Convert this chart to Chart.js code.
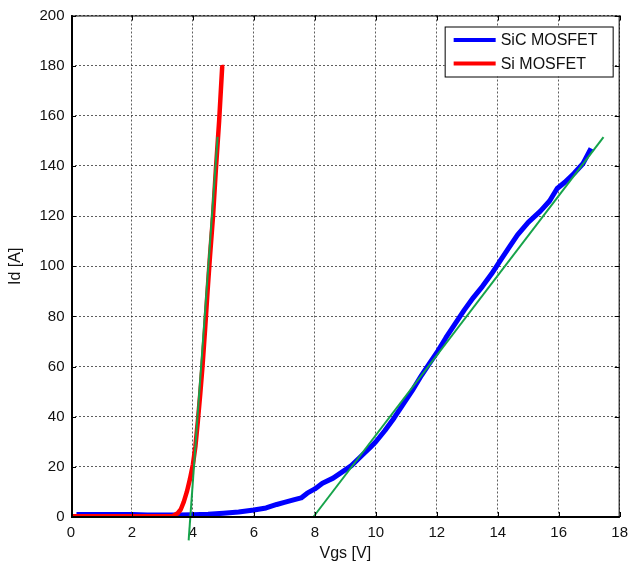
<!DOCTYPE html>
<html lang="en">
<head>
  <meta charset="UTF-8" />
  <title>Id vs Vgs - SiC / Si MOSFET</title>
  <script src="https://cdn.jsdelivr.net/npm/chart.js"></script>
  <style>
    html, body { margin: 0; padding: 0; background: #fff; }
    #wrap { width: 635px; height: 563px; }
  </style>
</head>
<body>
<div id="wrap"><canvas id="ivChart" width="635" height="563"></canvas></div>

<script>
  // axis ticks
  const xTicks = [0, 2, 4, 6, 8, 10, 12, 14, 16, 18];
  const yTicks = [0, 20, 40, 60, 80, 100, 120, 140, 160, 180, 200];

  // SiC MOSFET (blue)
  const sicVgs = [0.18, 0.5, 1, 1.5, 2, 2.5, 3, 3.5, 4, 4.5,
                  5, 5.5, 6, 6.4, 6.75, 7, 7.3, 7.55, 7.75, 8,
                  8.25, 8.6, 8.9, 9.2, 9.5, 9.8, 10, 10.3, 10.6, 10.9,
                  11.2, 11.5, 11.8, 12, 12.3, 12.6, 12.9, 13.2, 13.5, 13.8,
                  14.1, 14.4, 14.65, 15, 15.4, 15.7, 15.95, 16.2, 16.5, 16.8,
                  17.06];
  const sicId  = [1, 1, 1, 1, 1, 0.8, 0.8, 0.8, 0.9, 1.1,
                  1.5, 2, 2.8, 3.6, 5, 5.8, 6.8, 7.6, 9.5, 11.2,
                  13.5, 15.5, 18, 20.5, 24, 27.5, 30, 34.5, 39.5, 45,
                  50.5, 56.5, 62, 65.5, 71.5, 77, 82.5, 87.5, 92, 97,
                  102.5, 108, 112.5, 117.5, 122, 126, 131, 133.5, 137, 141,
                  147];

  // Si MOSFET (red)
  const siVgs = [0, 1, 2, 3, 3.35, 3.5, 3.6, 3.7, 3.8, 3.9, 4.0, 4.08,
                 4.16, 4.24, 4.32, 4.4, 4.48, 4.56, 4.66, 4.75, 4.86, 4.96, 5.03];
  const siId  = [0.3, 0.3, 0.3, 0.3, 0.4, 1.5, 3, 6, 10, 15, 21, 28,
                 38, 49, 61, 75, 90, 104, 120, 138, 158, 179.5, 179.5];

  // green fit lines
  const siFitVgs  = [3.86, 4.81];
  const siFitId   = [-9.3, 151.6];
  const sicFitVgs = [7.95, 17.47];
  const sicFitId  = [0, 151.5];

  const FONT = "'Liberation Sans', Arial, sans-serif";
  const pts = (xs, ys) => xs.map((v, i) => ({ x: v, y: ys[i] }));

  // box + inward tick marks, matlab style
  const frame = {
    id: 'frame',
    afterDatasetsDraw(chart) {
      const { ctx, chartArea: a, scales: { x, y } } = chart;
      ctx.save();
      ctx.strokeStyle = '#000';
      ctx.lineWidth = 1;
      ctx.beginPath();
      xTicks.forEach(v => {
        const px = Math.round(x.getPixelForValue(v)) + 0.5;
        ctx.moveTo(px, a.bottom); ctx.lineTo(px, a.bottom - 5);
        ctx.moveTo(px, a.top); ctx.lineTo(px, a.top + 5);
      });
      yTicks.forEach(v => {
        const py = Math.round(y.getPixelForValue(v)) + 0.5;
        ctx.moveTo(a.left, py); ctx.lineTo(a.left + 5, py);
        ctx.moveTo(a.right, py); ctx.lineTo(a.right - 5, py);
      });
      ctx.stroke();
      ctx.strokeRect(a.left + 0.5, a.top + 0.5, a.width - 1, a.height - 1);
      // left / bottom axes a bit heavier
      ctx.lineWidth = 2;
      ctx.beginPath();
      ctx.moveTo(a.left + 1, a.top); ctx.lineTo(a.left + 1, a.bottom);
      ctx.lineTo(a.right, a.bottom);
      ctx.stroke();
      ctx.restore();
    }
  };

  // legend box inside the plot (upper right)
  const boxLegend = {
    id: 'boxLegend',
    afterDraw(chart) {
      const { ctx, chartArea: a } = chart;
      const items = chart.data.datasets.filter(d => d.inLegend);
      const L = a.right - 175, T = a.top + 11, W = 168, H = 50;
      ctx.save();
      ctx.fillStyle = '#fff';
      ctx.fillRect(L, T, W, H);
      ctx.strokeStyle = '#000';
      ctx.lineWidth = 1;
      ctx.strokeRect(L + 0.5, T + 0.5, W, H);
      items.forEach((d, i) => {
        const yy = T + 13.5 + i * 23.5;
        ctx.strokeStyle = d.borderColor;
        ctx.lineWidth = 4;
        ctx.beginPath();
        ctx.moveTo(L + 9, yy); ctx.lineTo(L + 51, yy);
        ctx.stroke();
        ctx.fillStyle = '#111';
        ctx.font = '16px ' + FONT;
        ctx.textBaseline = 'middle';
        ctx.fillText(d.label, L + 56, yy + 1);
      });
      ctx.restore();
    }
  };

  const gridOpts = { color: 'rgba(40,40,40,0.75)', lineWidth: 1, drawTicks: false };

  new Chart(document.getElementById('ivChart'), {
    type: 'line',
    data: {
      datasets: [
        { label: 'SiC MOSFET', inLegend: true, data: pts(sicVgs, sicId),
          borderColor: '#0000ff', borderWidth: 5, pointRadius: 0, order: 3 },
        { label: 'Si MOSFET', inLegend: true, data: pts(siVgs, siId),
          borderColor: '#ff0000', borderWidth: 4.5, pointRadius: 0, order: 2 },
        { label: 'Si fit', data: pts(siFitVgs, siFitId),
          borderColor: '#16a34a', borderWidth: 2, pointRadius: 0, clip: false, order: 1 },
        { label: 'SiC fit', data: pts(sicFitVgs, sicFitId),
          borderColor: '#16a34a', borderWidth: 2, pointRadius: 0, clip: false, order: 1 }
      ]
    },
    options: {
      responsive: false,
      animation: false,
      layout: { padding: { top: 15, right: 6, left: 0, bottom: 0 } },
      plugins: { legend: { display: false }, tooltip: { enabled: false } },
      elements: { line: { tension: 0, borderJoinStyle: 'round', borderCapStyle: 'butt' } },
      scales: {
        x: {
          type: 'linear', min: 0, max: 18,
          afterBuildTicks: s => { s.ticks = xTicks.map(v => ({ value: v })); },
          afterFit: s => { s.height = 46; },
          ticks: { color: '#111', font: { family: FONT, size: 15 }, padding: 7 },
          grid: gridOpts,
          border: { display: false, dash: [2, 2] },
          title: { display: true, text: 'Vgs [V]', color: '#111',
                   font: { family: FONT, size: 16 }, padding: { top: 3.5, bottom: 0 } }
        },
        y: {
          type: 'linear', min: 0, max: 200,
          afterBuildTicks: s => { s.ticks = yTicks.map(v => ({ value: v })); },
          afterFit: s => { s.width = 71; },
          ticks: { color: '#111', font: { family: FONT, size: 15 }, padding: 6.5 },
          grid: gridOpts,
          border: { display: false, dash: [2, 2] },
          title: { display: true, text: 'Id [A]', color: '#111',
                   font: { family: FONT, size: 16 }, padding: { top: 5.5, bottom: 0 } }
        }
      }
    },
    plugins: [frame, boxLegend]
  });
</script>
</body>
</html>
